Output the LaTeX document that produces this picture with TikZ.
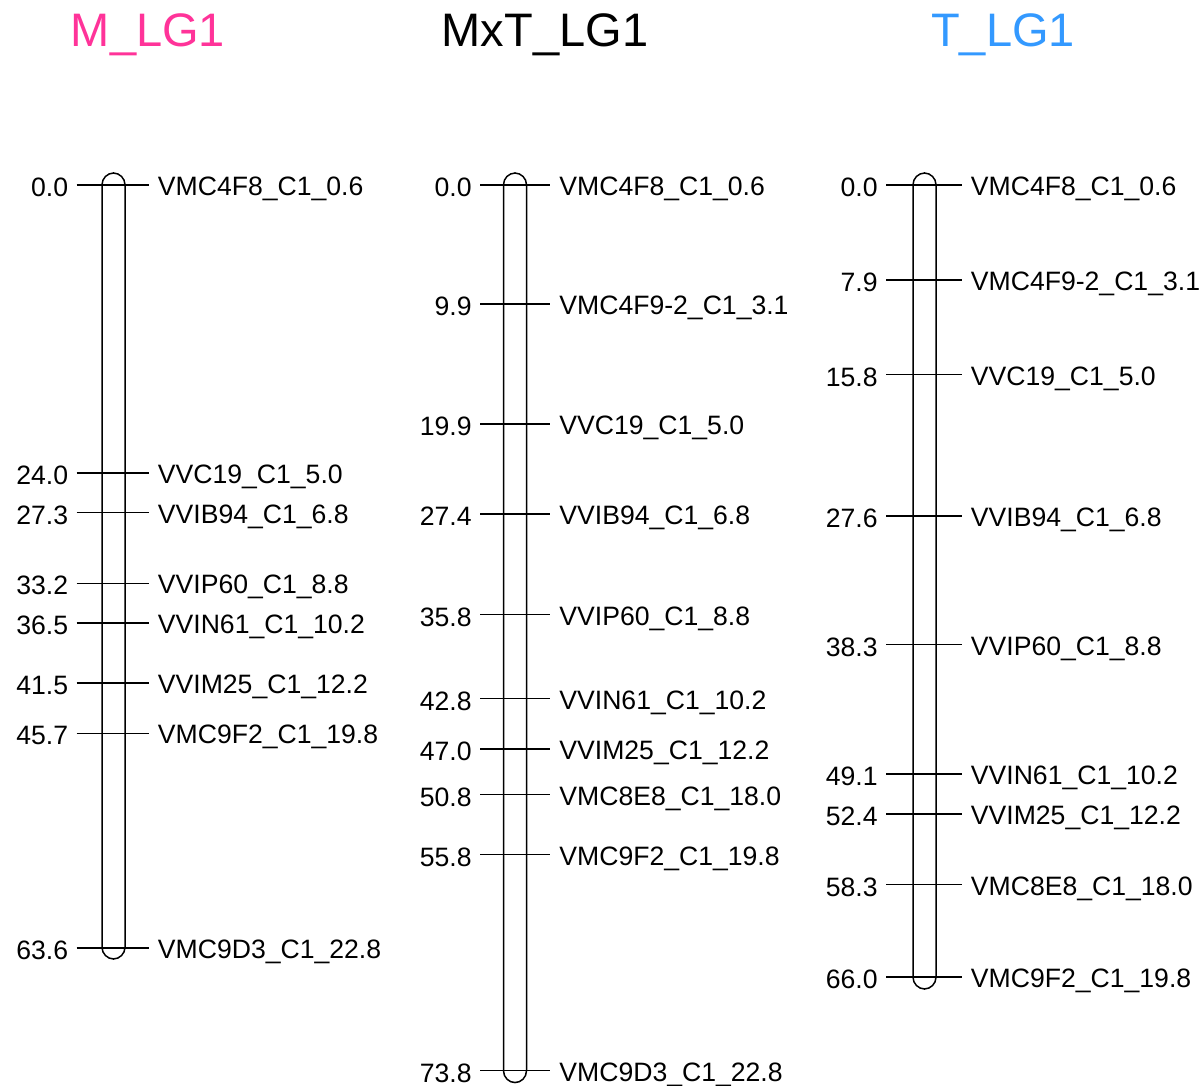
\documentclass[tikz,border=0pt]{standalone}
\usepackage{fontspec}
\setmainfont{Liberation Sans}
\usetikzlibrary{positioning}
\definecolor{mpink}{HTML}{FF3399}
\definecolor{tblue}{HTML}{3399FF}
\tikzset{
  pos label/.style={anchor=east, inner sep=0pt, inner xsep=4pt, text height=11.4pt, text depth=0pt, font=\fontsize{13.3}{15}\selectfont},
  marker label/.style={anchor=west, inner sep=0pt, inner xsep=4.5pt, text height=10.4pt, text depth=0pt, font=\fontsize{13.3}{15}\selectfont},
  map title/.style={anchor=base, inner sep=0pt, font=\fontsize{23.5}{28}\selectfont},
  chrom bar/.style={draw, line width=0.75pt, rounded corners=5.9pt},
  tick line/.style={draw, line width=0.75pt}
}

\begin{document}
\begin{tikzpicture}[x=0.5pt, y=-0.5pt]
  \useasboundingbox (0,0) rectangle (1200,1086);

  % titles
  \node[map title, text=mpink] (M-title) at (148,47) {M\_LG1};
  \node[map title] (MxT-title) at (545,47) {MxT\_LG1};
  \node[map title, text=tblue] (T-title) at (1003,47) {T\_LG1};

  % M_LG1
  \def\cx{113.5}
  \path[chrom bar] (\cx-11.5,173) rectangle (\cx+11.5,959);
  \foreach \pos/\name [count=\i] in {0.0/VMC4F8\_C1\_0.6, 24.0/VVC19\_C1\_5.0,
      27.3/VVIB94\_C1\_6.8, 33.2/VVIP60\_C1\_8.8, 36.5/VVIN61\_C1\_10.2,
      41.5/VVIM25\_C1\_12.2, 45.7/VMC9F2\_C1\_19.8, 63.6/VMC9D3\_C1\_22.8} {
    \node[pos label] (M-pos-\i) at (\cx-37,185+12*\pos) {\pos};
    \node[marker label] (M-mrk-\i) at (\cx+35,185+12*\pos) {\name};
    \path[tick line] (M-pos-\i.east) -- (M-mrk-\i.west);
  }

  % MxT_LG1
  \def\cx{515}
  \path[chrom bar] (\cx-11.5,173) rectangle (\cx+11.5,1082.6);
  \foreach \pos/\name [count=\i] in {0.0/VMC4F8\_C1\_0.6, 9.9/VMC4F9-2\_C1\_3.1,
      19.9/VVC19\_C1\_5.0, 27.4/VVIB94\_C1\_6.8, 35.8/VVIP60\_C1\_8.8,
      42.8/VVIN61\_C1\_10.2, 47.0/VVIM25\_C1\_12.2, 50.8/VMC8E8\_C1\_18.0,
      55.8/VMC9F2\_C1\_19.8, 73.8/VMC9D3\_C1\_22.8} {
    \node[pos label] (MxT-pos-\i) at (\cx-35,185+12*\pos) {\pos};
    \node[marker label] (MxT-mrk-\i) at (\cx+35,185+12*\pos) {\name};
    \path[tick line] (MxT-pos-\i.east) -- (MxT-mrk-\i.west);
  }

  % T_LG1
  \def\cx{924.5}
  \path[chrom bar] (\cx-11.5,173) rectangle (\cx+11.5,989);
  \foreach \pos/\name [count=\i] in {0.0/VMC4F8\_C1\_0.6, 7.9/VMC4F9-2\_C1\_3.1,
      15.8/VVC19\_C1\_5.0, 27.6/VVIB94\_C1\_6.8, 38.3/VVIP60\_C1\_8.8,
      49.1/VVIN61\_C1\_10.2, 52.4/VVIM25\_C1\_12.2, 58.3/VMC8E8\_C1\_18.0,
      66.0/VMC9F2\_C1\_19.8} {
    \node[pos label] (T-pos-\i) at (\cx-38.5,185+12*\pos) {\pos};
    \node[marker label] (T-mrk-\i) at (\cx+37,185+12*\pos) {\name};
    \path[tick line] (T-pos-\i.east) -- (T-mrk-\i.west);
  }
\end{tikzpicture}
\end{document}
